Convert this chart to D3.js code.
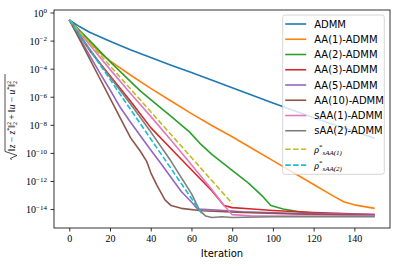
<!DOCTYPE html>
<html lang="en">
<head>
<meta charset="utf-8">
<title>AA-ADMM convergence</title>
<script src="https://d3js.org/d3.v7.min.js"></script>
<style>
    body { margin: 0; background: #fff; }
    svg { display: block; }
</style>
</head>
<body>
<div id="chart"></div>
<script>
// series labels / colours (legend order = plot order)
const seriesNames = ["ADMM", "AA(1)-ADMM", "AA(2)-ADMM", "AA(3)-ADMM", "AA(5)-ADMM",
    "AA(10)-ADMM", "sAA(1)-ADMM", "sAA(2)-ADMM", "rho1", "rho2"];
const seriesColors = ["#1f77b4", "#ff7f0e", "#2ca02c", "#d62728", "#9467bd",
    "#8c564b", "#e377c2", "#7f7f7f", "#bcbd22", "#17becf"];

// [iteration, log10 of residual]
const admm = [[0, -0.53], [5, -1.0], [10, -1.4], [15, -1.72], [20, -2.04], [30, -2.65], [40, -3.2],
    [50, -3.75], [60, -4.28], [80, -5.35], [100, -6.45], [120, -7.5], [150, -8.95]];
const aa1 = [[0, -0.53], [5, -1.3], [10, -2.1], [15, -2.85], [20, -3.45], [30, -4.45], [40, -5.4],
    [50, -6.3], [60, -7.2], [70, -8.05], [80, -8.85], [90, -9.7], [100, -10.55], [110, -11.4],
    [120, -12.25], [130, -13.1], [135, -13.5], [140, -13.7], [150, -13.95]];
const aa2 = [[0, -0.53], [10, -2.0], [20, -3.5], [30, -4.9], [35, -5.6], [40, -6.2], [50, -7.4],
    [59, -8.5], [64, -9.3], [70, -10.1], [80, -11.25], [88, -12.15], [95, -13.1], [99, -13.75],
    [105, -14.0], [113, -14.2], [125, -14.35], [150, -14.5]];
const aa3 = [[0, -0.53], [10, -2.7], [20, -4.5], [30, -6.3], [40, -8.2], [50, -9.7], [60, -11.2],
    [70, -12.7], [76, -13.75], [80, -13.9], [90, -14.0], [100, -14.1], [120, -14.25], [150, -14.4]];
const aa5 = [[0, -0.53], [5, -1.8], [10, -3.05], [15, -4.3], [20, -5.5], [25, -6.75], [30, -7.8],
    [35, -8.8], [40, -9.8], [45, -10.75], [50, -11.75], [55, -12.75], [60, -13.5], [63, -14.0],
    [70, -14.05], [85, -14.2], [110, -14.3], [150, -14.4]];
const aa10 = [[0, -0.53], [5, -1.9], [10, -3.3], [15, -4.7], [20, -6.1], [25, -7.5], [30, -8.9],
    [35, -9.9], [38, -10.6], [40, -11.4], [43, -12.3], [47, -13.35], [50, -13.75], [55, -13.95],
    [65, -14.12], [85, -14.25], [110, -14.35], [150, -14.45]];
const saa1 = [[0, -0.53], [10, -2.3], [20, -4.05], [30, -5.75], [40, -7.4], [50, -9.1], [60, -10.85],
    [70, -12.6], [76, -13.75], [80, -14.4], [90, -14.5], [150, -14.5]];
const saa2 = [[0, -0.53], [10, -2.6], [20, -4.6], [30, -6.5], [40, -8.5], [50, -10.6], [60, -12.9],
    [64, -14.1], [67, -14.5], [70, -14.6], [75, -14.55], [80, -14.6], [100, -14.55], [150, -14.55]];
const rho1 = [[0, -0.53], [80, -13.6]];
const rho2 = [[0, -0.53], [65, -14.3]];

const allSeries = [admm, aa1, aa2, aa3, aa5, aa10, saa1, saa2, rho1, rho2];

const xTicks = [0, 20, 40, 60, 80, 100, 120, 140];
const yTickExps = [0, -2, -4, -6, -8, -10, -12, -14];

const svgWidth = 399, svgHeight = 266;
const plotLeft = 54, plotRight = 390, plotTop = 10, plotBottom = 228;
const serif = "'Liberation Serif', 'DejaVu Serif', serif";
const sans = "'DejaVu Sans', sans-serif";

const svg = d3.select("#chart").append("svg")
    .attr("width", svgWidth)
    .attr("height", svgHeight);

const x = d3.scaleLinear().domain([-7.5, 157.5]).range([plotLeft, plotRight]);
const y = d3.scaleLog().domain([Math.pow(10, -15.35), Math.pow(10, 0.18)]).range([plotBottom, plotTop]);

svg.append("clipPath").attr("id", "plot-clip")
    .append("rect")
    .attr("x", plotLeft).attr("y", plotTop)
    .attr("width", plotRight - plotLeft).attr("height", plotBottom - plotTop);

const line = d3.line()
    .x(d => x(d[0]))
    .y(d => y(Math.pow(10, d[1])));

const linesG = svg.append("g").attr("clip-path", "url(#plot-clip)");
allSeries.forEach((s, i) => {
    linesG.append("path")
        .datum(s)
        .attr("fill", "none")
        .attr("stroke", seriesColors[i])
        .attr("stroke-width", 1.6)
        .attr("stroke-linejoin", "round")
        .attr("stroke-dasharray", i >= 8 ? "5.5,2.4" : null)
        .attr("d", line);
});

// x axis
const xAxisG = svg.append("g")
    .attr("transform", "translate(0," + plotBottom + ")")
    .call(d3.axisBottom(x).tickValues(xTicks).tickSize(3.5).tickPadding(3.5).tickFormat(d3.format("d")));
xAxisG.select(".domain").remove();
xAxisG.selectAll("line").attr("stroke", "#000").attr("stroke-width", 0.8);
xAxisG.selectAll("text")
    .attr("fill", "#000")
    .style("font-family", serif)
    .style("font-size", "10px");

// y axis
const yAxisG = svg.append("g")
    .attr("transform", "translate(" + plotLeft + ",0)")
    .call(d3.axisLeft(y).tickValues(yTickExps.map(e => Math.pow(10, e))).tickSize(3.5).tickPadding(3.5).tickFormat(""));
yAxisG.select(".domain").remove();
yAxisG.selectAll("line").attr("stroke", "#000").attr("stroke-width", 0.8);
yAxisG.selectAll("text")
    .attr("fill", "#000")
    .attr("dy", "0.35em")
    .style("font-family", serif)
    .style("font-size", "10px")
    .each(function (d) {
        const e = Math.round(Math.log10(d));
        const t = d3.select(this);
        t.append("tspan").text("10");
        t.append("tspan")
            .attr("dy", "-0.45em")
            .style("font-size", "7px")
            .text(e === 0 ? "0" : "\u2212" + Math.abs(e));
    });

// spines
svg.append("rect")
    .attr("x", plotLeft).attr("y", plotTop)
    .attr("width", plotRight - plotLeft).attr("height", plotBottom - plotTop)
    .attr("fill", "none").attr("stroke", "#000").attr("stroke-width", 0.8);

// x label
svg.append("text")
    .attr("x", (plotLeft + plotRight) / 2).attr("y", 257)
    .attr("text-anchor", "middle")
    .style("font-family", sans).style("font-size", "10px")
    .text("Iteration");

// y label: sqrt(||z - z*||_2^2 + ||u - u*||_2^2)
const ylab = svg.append("g").attr("transform", "translate(14.5,117) rotate(-90)");
const ytext = ylab.append("text")
    .style("font-family", serif).style("font-size", "9.5px");
function piece(txt, opts) {
    const o = opts || {};
    const ts = ytext.append("tspan").text(txt);
    if (o.italic) ts.style("font-style", "italic");
    if (o.size) ts.style("font-size", o.size + "px");
    if (o.dy) ts.attr("dy", o.dy);
    if (o.dx) ts.attr("dx", o.dx);
}
function normTerm(v, first) {
    piece("\u2016", first ? {} : { dy: -2.5 });
    piece(v, { italic: true });
    piece(" \u2212 ");
    piece(v, { italic: true });
    piece("*", { size: 6, dy: -3.5 });
    piece("\u2016", { dy: 3.5 });
    piece("2", { size: 6, dy: -3.5 });
    piece("2", { size: 6, dy: 6, dx: -3 });
}
normTerm("z", true);
piece(" + ", { dy: -2.5 });
normTerm("u", true);
const yw = ytext.node().getComputedTextLength();
ytext.attr("x", -yw / 2 + 4);
const x0 = -yw / 2 - 5;
ylab.append("path")
    .attr("d", `M${x0},-3 L${x0 + 1.6},-4 L${x0 + 4.5},2.5 L${x0 + 8.5},-9.5 L${yw / 2 + 5},-9.5`)
    .attr("fill", "none").attr("stroke", "#000").attr("stroke-width", 0.7);

// legend
const legend = svg.append("g").attr("transform", "translate(282.7,15)");
legend.append("rect")
    .attr("width", 101.6).attr("height", 159.3)
    .attr("rx", 2.5)
    .attr("fill", "#fff").attr("fill-opacity", 0.8)
    .attr("stroke", "#ccc").attr("stroke-width", 0.8);
seriesNames.forEach((name, i) => {
    const rowY = i < 8 ? 9 + i * 15.25 : 134.3 + (i - 8) * 15.8;
    legend.append("line")
        .attr("x1", 2.5).attr("x2", 23.5)
        .attr("y1", rowY).attr("y2", rowY)
        .attr("stroke", seriesColors[i]).attr("stroke-width", 1.6)
        .attr("stroke-dasharray", i >= 8 ? "5.5,2.4" : null);
    const t = legend.append("text")
        .attr("x", 31.5).attr("y", rowY)
        .attr("dy", "0.35em")
        .style("font-size", "10px");
    if (i < 8) {
        t.style("font-family", sans).text(name);
    } else {
        t.style("font-family", serif);
        t.append("tspan").style("font-style", "italic").text("\u03c1");
        t.append("tspan").attr("dy", -3.5).style("font-size", "7px").text("*");
        t.append("tspan").attr("dy", 6).style("font-size", "7px")
            .style("font-style", "italic").text(i === 8 ? "sAA(1)" : "sAA(2)");
    }
});
</script>
</body>
</html>
